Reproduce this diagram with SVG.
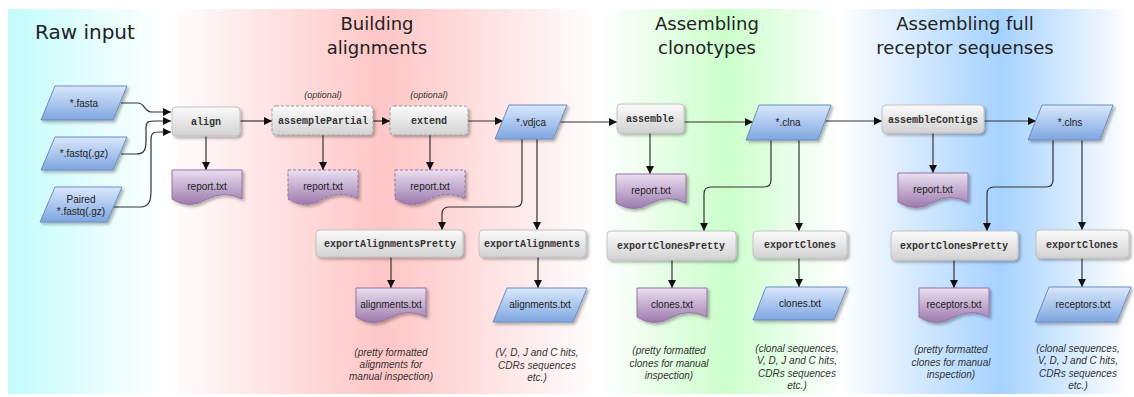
<svg xmlns="http://www.w3.org/2000/svg" width="1134" height="397" viewBox="0 0 1134 397">
<defs>
  <linearGradient id="bg" x1="0" y1="0" x2="1" y2="0">
    <stop offset="0" stop-color="#c4fbfb"/>
    <stop offset="0.14" stop-color="#ffffff"/>
    <stop offset="0.334" stop-color="#ffc6c6"/>
    <stop offset="0.528" stop-color="#ffffff"/>
    <stop offset="0.641" stop-color="#ccffcc"/>
    <stop offset="0.741" stop-color="#ffffff"/>
    <stop offset="0.884" stop-color="#a6d2ff"/>
    <stop offset="1" stop-color="#ffffff"/>
  </linearGradient>
  <linearGradient id="gray" x1="0" y1="0" x2="0" y2="1">
    <stop offset="0" stop-color="#fbfbfb"/>
    <stop offset="1" stop-color="#d2d2d2"/>
  </linearGradient>
  <linearGradient id="purple" x1="0" y1="0" x2="0" y2="1">
    <stop offset="0" stop-color="#ebe0f0"/>
    <stop offset="1" stop-color="#9c79ad"/>
  </linearGradient>
  <linearGradient id="blue" x1="0" y1="0" x2="0" y2="1">
    <stop offset="0" stop-color="#dae8fc"/>
    <stop offset="1" stop-color="#7ea6e0"/>
  </linearGradient>
  <filter id="sh" x="-20%" y="-20%" width="150%" height="160%">
    <feDropShadow dx="2" dy="2" stdDeviation="1.4" flood-color="#000" flood-opacity="0.3"/>
  </filter>
  <marker id="arr" viewBox="0 0 10 10" refX="10" refY="5" markerWidth="8" markerHeight="8" markerUnits="userSpaceOnUse" orient="auto">
    <path d="M0,0 L10,5 L0,10 Z" fill="#111"/>
  </marker>
  <path id="docshape" d="M0,0 H70 V29 Q52.5,20 35,29 Q17.5,40 0,29 Z"/>
</defs>
<style>
  .title{font-family:"DejaVu Sans",Verdana,sans-serif;font-size:18px;fill:#222;}
  .box{fill:url(#gray);stroke:#c2c2c2;stroke-width:1;filter:url(#sh);}
  .dbox{fill:url(#gray);stroke:#999;stroke-width:1;stroke-dasharray:3 2;filter:url(#sh);}
  .doc{fill:url(#purple);stroke:#9673a6;stroke-width:1;filter:url(#sh);}
  .ddoc{fill:url(#purple);stroke:#9673a6;stroke-width:1;stroke-dasharray:3 2;filter:url(#sh);}
  .para{fill:url(#blue);stroke:#6c8ebf;stroke-width:1;filter:url(#sh);}
  .cmd{font-family:"Liberation Mono","Courier New",monospace;font-size:10px;font-weight:bold;fill:#333;text-anchor:middle;}
  .file{font-family:"Liberation Sans",Arial,sans-serif;font-size:10px;fill:#222;text-anchor:middle;}
  .note{font-family:"Liberation Sans",Arial,sans-serif;font-size:10px;font-style:italic;fill:#333;text-anchor:middle;}
  .opt{font-family:"Liberation Sans",Arial,sans-serif;font-size:9px;font-style:italic;fill:#333;text-anchor:middle;}
  .edge{fill:none;stroke:#333;stroke-width:1.2;marker-end:url(#arr);}
</style>

<rect x="8" y="9" width="1122" height="385" fill="url(#bg)"/>

<g id="titles">
  <text class="title" x="35" y="39" style="font-size:20px">Raw input</text>
  <text class="title" x="377" y="30" text-anchor="middle">Building</text>
  <text class="title" x="377" y="54" text-anchor="middle">alignments</text>
  <text class="title" x="707" y="30" text-anchor="middle">Assembling</text>
  <text class="title" x="707" y="54" text-anchor="middle">clonotypes</text>
  <text class="title" x="965" y="30" text-anchor="middle">Assembling full</text>
  <text class="title" x="965" y="54" text-anchor="middle">receptor sequenses</text>
</g>

<g id="connectors">
  <path class="edge" d="M121,103 H138 C145,103 144,112 152,112 H171"/>
  <path class="edge" d="M121,154 H136 C145,154 146,149 146,140 V128 C146,121 149,121 156,121 H171"/>
  <path class="edge" d="M113,207 H140 C150,207 151,200 151,190 V140 C151,133 153,132 160,132 H171"/>
  <path class="edge" d="M206,136 V170"/>
  <path class="edge" d="M240,121 H272"/>
  <path class="edge" d="M323,135 V170"/>
  <path class="edge" d="M373,121 H390"/>
  <path class="edge" d="M430,135 V170"/>
  <path class="edge" d="M468,121 H503"/>
  <path class="edge" d="M560,122 H617"/>
  <path class="edge" d="M522,139 V200 Q522,207 515,207 H449 Q442,207 442,214 V230"/>
  <path class="edge" d="M537,139 V230"/>
  <path class="edge" d="M650,133 V174"/>
  <path class="edge" d="M684,122 H753"/>
  <path class="edge" d="M825,121 H882"/>
  <path class="edge" d="M771,140 V180 Q771,187 764,187 H711 Q704,187 704,194 V231"/>
  <path class="edge" d="M799,140 V231"/>
  <path class="edge" d="M933,133 V173"/>
  <path class="edge" d="M984,121 H1036"/>
  <path class="edge" d="M1053,140 V180 Q1053,187 1046,187 H994 Q987,187 987,194 V231"/>
  <path class="edge" d="M1082,140 V230"/>
  <path class="edge" d="M391,257 V288"/>
  <path class="edge" d="M538,257 V288"/>
  <path class="edge" d="M672,260 V288"/>
  <path class="edge" d="M799,258 V287"/>
  <path class="edge" d="M954,260 V288"/>
  <path class="edge" d="M1082,258 V287"/>
</g>

<g id="in-fasta">
  <polygon class="para" points="55,86 127,86 113,120 41,120"/>
  <text class="file" x="84" y="107">*.fasta</text>
</g>
<g id="in-fastq">
  <polygon class="para" points="55,137 127,137 113,170 41,170"/>
  <text class="file" x="84" y="157">*.fastq(.gz)</text>
</g>
<g id="in-paired">
  <polygon class="para" points="55,187 122,187 107,222 40,222"/>
  <text class="file" x="81" y="203">Paired</text>
  <text class="file" x="81" y="215">*.fastq(.gz)</text>
</g>

<g id="align">
  <rect class="box" x="172" y="107" width="68" height="29" rx="4"/>
  <text class="cmd" x="206" y="125">align</text>
</g>
<g id="report-align">
  <use href="#docshape" class="doc" x="172" y="170"/>
  <text class="file" x="207" y="190">report.txt</text>
</g>

<g id="assemplePartial">
  <text class="opt" x="323" y="98">(optional)</text>
  <rect class="dbox" x="272" y="106" width="101" height="29" rx="4"/>
  <text class="cmd" x="323" y="124">assemplePartial</text>
</g>
<g id="report-assemplePartial">
  <use href="#docshape" class="ddoc" x="288" y="170"/>
  <text class="file" x="323" y="190">report.txt</text>
</g>

<g id="extend">
  <text class="opt" x="429" y="98">(optional)</text>
  <rect class="dbox" x="390" y="106" width="78" height="29" rx="4"/>
  <text class="cmd" x="429" y="124">extend</text>
</g>
<g id="report-extend">
  <use href="#docshape" class="ddoc" x="395" y="170"/>
  <text class="file" x="430" y="190">report.txt</text>
</g>

<g id="vdjca">
  <polygon class="para" points="509,105 567,105 553,139 495,139"/>
  <text class="file" x="531" y="126">*.vdjca</text>
</g>

<g id="exportAlignmentsPretty">
  <rect class="box" x="316" y="230" width="147" height="27" rx="4"/>
  <text class="cmd" x="390" y="247">exportAlignmentsPretty</text>
</g>
<g id="alignments-doc">
  <use href="#docshape" class="doc" x="356" y="288"/>
  <text class="file" x="391" y="308">alignments.txt</text>
</g>
<g id="note-alignments-pretty">
  <text class="note" x="391" y="356">(pretty formatted</text>
  <text class="note" x="391" y="368">alignments for</text>
  <text class="note" x="391" y="380">manual inspection)</text>
</g>

<g id="exportAlignments">
  <rect class="box" x="479" y="230" width="107" height="27" rx="4"/>
  <text class="cmd" x="532" y="247">exportAlignments</text>
</g>
<g id="alignments-para">
  <polygon class="para" points="507,288 587,288 573,322 493,322"/>
  <text class="file" x="540" y="308">alignments.txt</text>
</g>
<g id="note-alignments">
  <text class="note" x="537" y="356">(V, D, J and C hits,</text>
  <text class="note" x="537" y="368.5">CDRs sequences</text>
  <text class="note" x="537" y="381">etc.)</text>
</g>

<g id="assemble">
  <rect class="box" x="617" y="104" width="67" height="29" rx="4"/>
  <text class="cmd" x="650" y="122">assemble</text>
</g>
<g id="report-assemble">
  <use href="#docshape" class="doc" x="616" y="174"/>
  <text class="file" x="651" y="194">report.txt</text>
</g>

<g id="clna">
  <polygon class="para" points="759,105 831,105 818,140 746,140"/>
  <text class="file" x="788" y="126">*.clna</text>
</g>

<g id="exportClonesPretty-1">
  <rect class="box" x="607" y="231" width="129" height="29" rx="4"/>
  <text class="cmd" x="671" y="249">exportClonesPretty</text>
</g>
<g id="clones-doc">
  <use href="#docshape" class="doc" x="637" y="288"/>
  <text class="file" x="672" y="308">clones.txt</text>
</g>
<g id="note-clones-pretty">
  <text class="note" x="669" y="354">(pretty formatted</text>
  <text class="note" x="669" y="366.5">clones for manual</text>
  <text class="note" x="669" y="379">inspection)</text>
</g>

<g id="exportClones-1">
  <rect class="box" x="753" y="231" width="94" height="27" rx="4"/>
  <text class="cmd" x="800" y="248">exportClones</text>
</g>
<g id="clones-para">
  <polygon class="para" points="766,287 847,287 834,320 753,320"/>
  <text class="file" x="800" y="307">clones.txt</text>
</g>
<g id="note-clones">
  <text class="note" x="797" y="351.5">(clonal sequences,</text>
  <text class="note" x="797" y="364">V, D, J and C hits,</text>
  <text class="note" x="797" y="376.5">CDRs sequences</text>
  <text class="note" x="797" y="389">etc.)</text>
</g>

<g id="assembleContigs">
  <rect class="box" x="882" y="105" width="102" height="28" rx="4"/>
  <text class="cmd" x="933" y="123">assembleContigs</text>
</g>
<g id="report-assembleContigs">
  <use href="#docshape" class="doc" x="898" y="173"/>
  <text class="file" x="933" y="193">report.txt</text>
</g>

<g id="clns">
  <polygon class="para" points="1042,105 1113,105 1100,140 1028,140"/>
  <text class="file" x="1070" y="126">*.clns</text>
</g>

<g id="exportClonesPretty-2">
  <rect class="box" x="891" y="231" width="127" height="29" rx="4"/>
  <text class="cmd" x="954" y="249">exportClonesPretty</text>
</g>
<g id="receptors-doc">
  <use href="#docshape" class="doc" x="919" y="288"/>
  <text class="file" x="954" y="308">receptors.txt</text>
</g>
<g id="note-receptors-pretty">
  <text class="note" x="951" y="353">(pretty formatted</text>
  <text class="note" x="951" y="365.5">clones for manual</text>
  <text class="note" x="951" y="378">inspection)</text>
</g>

<g id="exportClones-2">
  <rect class="box" x="1036" y="230" width="93" height="28" rx="4"/>
  <text class="cmd" x="1082" y="248">exportClones</text>
</g>
<g id="receptors-para">
  <polygon class="para" points="1049,287 1131,287 1117,322 1035,322"/>
  <text class="file" x="1083" y="308">receptors.txt</text>
</g>
<g id="note-receptors">
  <text class="note" x="1078" y="351.5">(clonal sequences,</text>
  <text class="note" x="1078" y="364">V, D, J and C hits,</text>
  <text class="note" x="1078" y="376.5">CDRs sequences</text>
  <text class="note" x="1078" y="389">etc.)</text>
</g>
</svg>
